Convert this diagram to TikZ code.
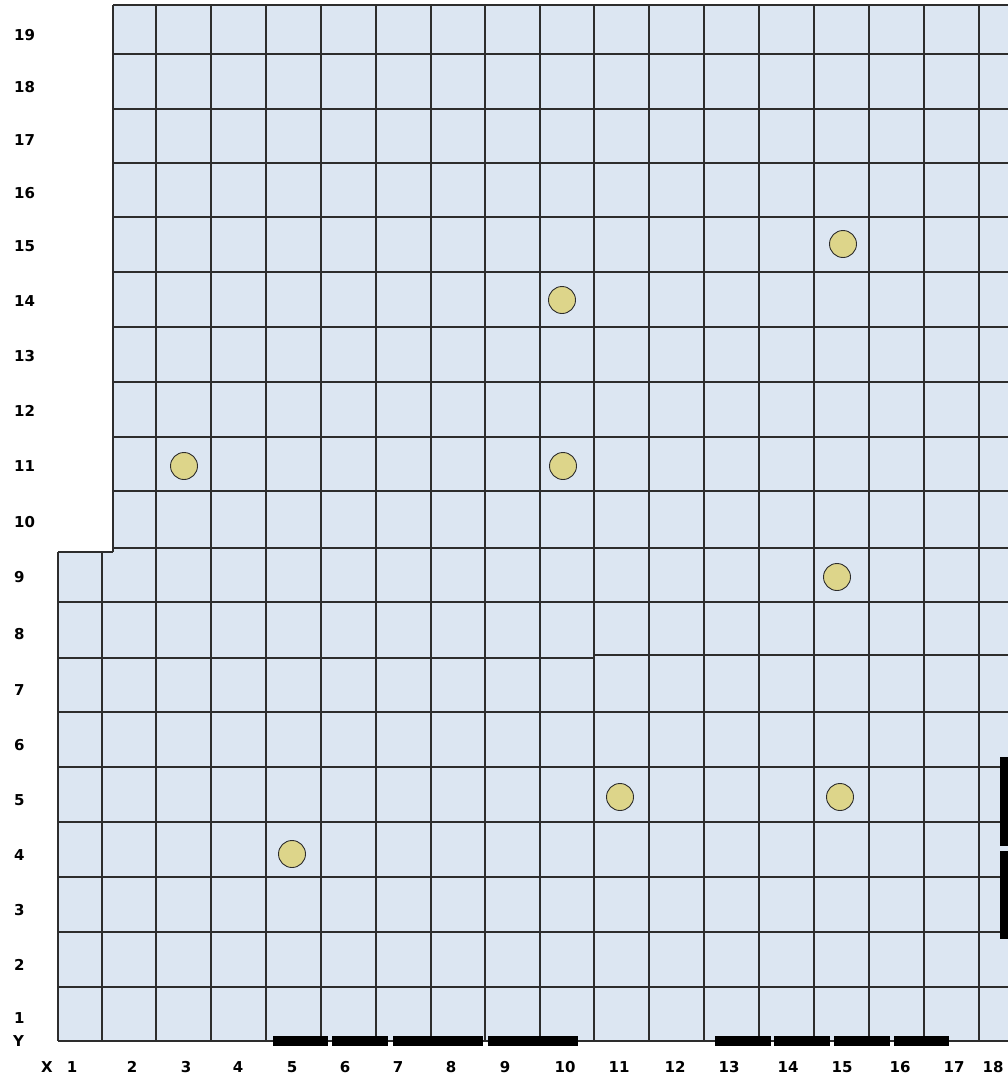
\documentclass[tikz,border=0pt]{standalone}
\usepackage{fontspec}
\setmainfont{DejaVu Sans}
\usepackage{tikz}
\usetikzlibrary{positioning}
\definecolor{cellblue}{RGB}{220,230,242}
\definecolor{gridgrey}{RGB}{45,45,45}
\definecolor{poleyellow}{RGB}{221,213,138}
\tikzset{
  gridline/.style={draw=gridgrey, line width=1.9pt},
  pole/.style={circle, draw=gridgrey, fill=poleyellow, line width=0.9pt,
               minimum size=27pt, inner sep=0pt},
  axislabel/.style={font=\bfseries\fontsize{15}{15}\selectfont, inner sep=0pt},
  wallbar/.style={fill=black},
}

\begin{document}
\begin{tikzpicture}[x=1pt, y=-1pt]
  \useasboundingbox (0,0) rectangle (1008,1076);
  % floor area
  \fill[cellblue] (113,5) -- (1008,5) -- (1008,1041) -- (58,1041)
                  -- (58,552) -- (113,552) -- cycle;
  % vertical grid lines
  \draw[gridline] (58,552) -- (58,1041);
  \draw[gridline] (102,552) -- (102,1041);
  \draw[gridline] (113,5) -- (113,552);
  \foreach \x in {156,211,266,321,376,431,485,540,594,649,704,759,814,869,924,979}
    \draw[gridline] (\x,5) -- (\x,1041);
  % horizontal grid lines
  \foreach \y in {5,54,109,163,217,272,327,382,437,491,548}
    \draw[gridline] (113,\y) -- (1008,\y);
  \draw[gridline] (58,552) -- (113,552);
  \foreach \y in {602,712,767,822,877,932,987,1041}
    \draw[gridline] (58,\y) -- (1008,\y);
  \draw[gridline] (58,658) -- (594,658);
  \draw[gridline] (594,655) -- (1008,655);
  % walls
  \foreach \a/\b in {273/328,332/388,393/483,488/578,715/771,774/830,834/890,894/949}
    \fill[wallbar] (\a,1036) rectangle (\b,1046);
  \foreach \a/\b in {757/846,851/939}
    \fill[wallbar] (1000,\a) rectangle (1008,\b);
  % poles
  \node[pole] (pole1) at (184,466) {};
  \node[pole] (pole2) at (562,300) {};
  \node[pole] (pole3) at (843,244) {};
  \node[pole] (pole4) at (563,466) {};
  \node[pole] (pole5) at (837,577) {};
  \node[pole] (pole6) at (620,797) {};
  \node[pole] (pole7) at (840,797) {};
  \node[pole] (pole8) at (292,854) {};
  % axis labels
  \foreach \n/\y in {19/35,18/87,17/140,16/193,15/246,14/301,13/356,12/411,11/466,10/522,
                     9/577,8/634,7/690,6/745,5/800,4/855,3/910,2/965,1/1018}
    \node[axislabel, anchor=west] (ylab\n) at (14,\y) {\n};
  \node[axislabel, anchor=west] (ylabY) at (13,1041) {Y};
  \node[axislabel] (xlabX) at (47,1067) {X};
  \foreach \n/\x in {1/72,2/132,3/186,4/238,5/292,6/345,7/398,8/451,9/505,10/565,
                     11/619,12/675,13/729,14/788,15/842,16/900,17/954,18/993}
    \node[axislabel] (xlab\n) at (\x,1067) {\n};
\end{tikzpicture}
\end{document}
